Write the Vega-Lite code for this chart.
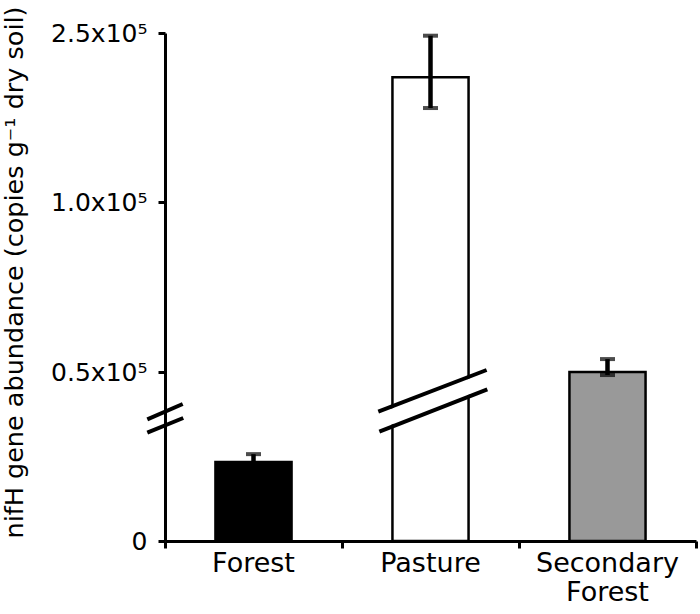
{
  "$schema": "https://vega.github.io/schema/vega-lite/v6.json",
  "width": 531,
  "height": 508,
  "autosize": {"type": "none"},
  "padding": {"left": 165, "top": 33, "right": 4, "bottom": 73},
  "config": {
    "view": {"stroke": null},
    "font": "DejaVu Sans",
    "axis": {"grid": false, "domainColor": "#000", "tickColor": "#000", "labelColor": "#000", "titleColor": "#000"}
  },
  "datasets": {
    "bars": [
      {"site": "Forest", "mean": 23400, "lo": 21100, "hi": 25700},
      {"site": "Pasture", "mean": 210700, "lo": 183400, "hi": 247600},
      {"site": "Secondary Forest", "mean": 50000, "lo": 49100, "hi": 53800}
    ],
    "gap": [
      {"x1": 1.205, "x2": 1.818, "y1": 35300, "y2": 47730}
    ],
    "breaks": [
      {"x1": -0.1, "x2": 0.1, "y1": 36000, "y2": 40530},
      {"x1": -0.1, "x2": 0.103, "y1": 32040, "y2": 36390},
      {"x1": 1.205, "x2": 1.817, "y1": 38250, "y2": 50590},
      {"x1": 1.211, "x2": 1.821, "y1": 32340, "y2": 44880}
    ]
  },
  "layer": [
    {
      "data": {"name": "bars"},
      "encoding": {
        "x": {
          "field": "site", "type": "nominal", "sort": null,
          "scale": {"paddingInner": 0, "paddingOuter": 0},
          "axis": {
            "title": null, "orient": "bottom", "labelAngle": 0, "ticks": false, "tickSize": 0,
            "domainWidth": 3, "labelFontSize": 27, "labelPadding": 9, "labelLineHeight": 29,
            "labelBaseline": "top",
            "labelExpr": "datum.value == 'Secondary Forest' ? ['Secondary', 'Forest'] : datum.label"
          }
        }
      },
      "layer": [
        {
          "mark": {"type": "bar", "width": {"band": 0.43}, "strokeWidth": 2.5, "stroke": "#000"},
          "encoding": {
            "y": {
              "field": "mean", "type": "quantitative",
              "scale": {"domain": [0, 50000, 100000, 250000], "range": [508, 339, 169, 0], "nice": false, "zero": false},
              "axis": {
                "title": "nifH gene abundance (copies g⁻¹ dry soil)",
                "values": [0, 50000, 100000, 250000],
                "labelExpr": "datum.value == 0 ? '0\u2008' : datum.value == 50000 ? '0.5x10⁵' : datum.value == 100000 ? '1.0x10⁵' : '2.5x10⁵'",
                "labelFontSize": 25, "labelPadding": 11, "tickSize": 7, "tickWidth": 3, "domainWidth": 3,
                "titleFontSize": 25.5, "titleFontWeight": "normal", "titlePadding": 23, "titleY": 239
              }
            },
            "color": {
              "field": "site", "type": "nominal",
              "scale": {"domain": ["Forest", "Pasture", "Secondary Forest"], "range": ["#000000", "#ffffff", "#999999"]},
              "legend": null
            }
          }
        },
        {
          "mark": {"type": "rule", "strokeWidth": 4.5, "color": "#000"},
          "encoding": {
            "y": {"field": "lo", "type": "quantitative", "scale": {"domain": [0, 50000, 100000, 250000], "range": [508, 339, 169, 0], "nice": false, "zero": false}},
            "y2": {"field": "hi"}
          }
        },
        {
          "mark": {"type": "tick", "orient": "horizontal", "size": 15, "thickness": 4, "color": "#000"},
          "encoding": {
            "y": {"field": "hi", "type": "quantitative", "scale": {"domain": [0, 50000, 100000, 250000], "range": [508, 339, 169, 0], "nice": false, "zero": false}}
          }
        },
        {
          "mark": {"type": "tick", "orient": "horizontal", "size": 15, "thickness": 4, "color": "#000"},
          "encoding": {
            "y": {"field": "lo", "type": "quantitative", "scale": {"domain": [0, 50000, 100000, 250000], "range": [508, 339, 169, 0], "nice": false, "zero": false}}
          }
        }
      ]
    },
    {
      "layer": [
        {
          "data": {"name": "gap"},
          "mark": {"type": "rule", "strokeWidth": 15, "color": "#ffffff", "strokeCap": "butt"},
          "encoding": {
            "x": {
              "field": "x1", "type": "quantitative",
              "scale": {"domain": [0, 3], "nice": false, "zero": false},
              "axis": {"orient": "bottom", "title": null, "values": [0, 1, 2, 3], "labels": false, "domain": false, "tickSize": 7, "tickWidth": 3, "grid": false}
            },
            "x2": {"field": "x2"},
            "y": {"field": "y1", "type": "quantitative", "scale": {"domain": [0, 50000, 100000, 250000], "range": [508, 339, 169, 0], "nice": false, "zero": false}},
            "y2": {"field": "y2"}
          }
        },
        {
          "data": {"name": "breaks"},
          "mark": {"type": "rule", "strokeWidth": 4, "color": "#000", "strokeCap": "butt"},
          "encoding": {
            "x": {"field": "x1", "type": "quantitative", "scale": {"domain": [0, 3], "nice": false, "zero": false}},
            "x2": {"field": "x2"},
            "y": {"field": "y1", "type": "quantitative", "scale": {"domain": [0, 50000, 100000, 250000], "range": [508, 339, 169, 0], "nice": false, "zero": false}},
            "y2": {"field": "y2"}
          }
        }
      ]
    }
  ],
  "resolve": {"scale": {"x": "independent"}, "axis": {"x": "independent"}}
}
